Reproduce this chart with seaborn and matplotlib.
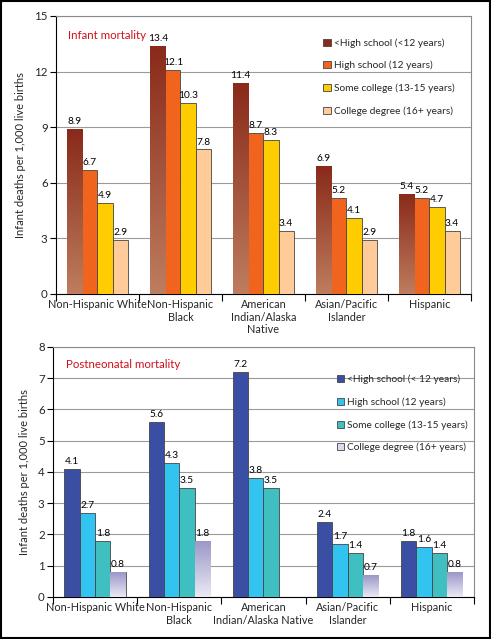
import numpy as np
import pandas as pd
import seaborn as sns
import matplotlib.pyplot as plt
from matplotlib.patches import Patch, Rectangle
from matplotlib.colors import LinearSegmentedColormap

# Data
groups_top = ["Non-Hispanic White", "Non-Hispanic\nBlack", "American\nIndian/Alaska\nNative",
              "Asian/Pacific\nIslander", "Hispanic"]
groups_bot = ["Non-Hispanic White", "Non-Hispanic\nBlack", "American\nIndian/Alaska Native",
              "Asian/Pacific\nIslander", "Hispanic"]
levels = ["<High school (<12 years)", "High school (12 years)",
          "Some college (13-15 years)", "College degree (16+ years)"]
levels_bot = ["<High school (< 12 years)", "High school (12 years)",
              "Some college (13-15 years)", "College degree (16+ years)"]

infant_lt_hs = [8.9, 13.4, 11.4, 6.9, 5.4]
infant_hs = [6.7, 12.1, 8.7, 5.2, 5.2]
infant_some = [4.9, 10.3, 8.3, 4.1, 4.7]
infant_coll = [2.9, 7.8, 3.4, 2.9, 3.4]

post_lt_hs = [4.1, 5.6, 7.2, 2.4, 1.8]
post_hs = [2.7, 4.3, 3.8, 1.7, 1.6]
post_some = [1.8, 3.5, 3.5, 1.4, 1.4]
post_coll = [0.8, 1.8, np.nan, 0.7, 0.8]

top_colors = ["#a0452c", "#f0641e", "#ffcc00", "#ffcc99"]
bot_colors = ["#3a4fa3", "#33c3f0", "#3fbfbf", "#c8c6e2"]

sns.set_theme(style="white")
plt.rcParams['font.family'] = ['Lato', 'DejaVu Sans']


def long_df(groups, lv, series):
    rows = []
    for lvl, vals in zip(lv, series):
        for g, v in zip(groups, vals):
            rows.append({"group": g, "level": lvl, "value": v})
    return pd.DataFrame(rows)


def gradient_fill(ax, container, c_top, c_bot):
    cmap = LinearSegmentedColormap.from_list("g", [c_bot, c_top])
    grad = np.linspace(0, 1, 100).reshape(-1, 1)
    for p in container.patches:
        h = p.get_height()
        if np.isnan(h) or h == 0:
            continue
        x0, y0 = p.get_x(), p.get_y()
        im = ax.imshow(grad, cmap=cmap, origin="lower", aspect="auto",
                       extent=[x0, x0 + p.get_width(), y0, y0 + h], zorder=p.get_zorder())
        im.set_clip_path(p)
        p.set_facecolor("none")


def draw(ax, groups, lv, series, colors, ymax, ystep, title, leg_anchor, grad, leg_colors):
    df = long_df(groups, lv, series)
    sns.barplot(data=df, x="group", y="value", hue="level", palette=colors,
                width=0.73, saturation=1, edgecolor="#444444", linewidth=0.6,
                legend=False, ax=ax, zorder=3)
    for cont in ax.containers:
        labels = ["" if np.isnan(v) else f"{v:.1f}" for v in cont.datavalues]
        ax.bar_label(cont, labels=labels, padding=2, fontsize=7.3, color="black")
    idx, c_top, c_bot = grad
    gradient_fill(ax, ax.containers[idx], c_top, c_bot)

    ax.set_xlim(-0.5, 4.5)
    ax.set_ylim(0, ymax)
    ax.set_yticks(np.arange(0, ymax + 0.01, ystep))
    ax.set_xticks(np.arange(-0.5, 5, 1))
    ax.set_xticklabels([])
    ax.set_xticks(np.arange(5), minor=True)
    ax.set_xticklabels(groups, minor=True, fontsize=7.8, linespacing=1.15)
    ax.tick_params(axis="x", which="major", direction="out", length=5, width=0.8,
                   color="black", bottom=True)
    ax.tick_params(axis="x", which="minor", length=0, pad=4)
    ax.tick_params(axis="y", direction="out", length=4, width=0.8, color="black",
                   left=True, labelsize=8.3, pad=2)
    ax.yaxis.grid(True, color="#9a9a9a", linewidth=0.8)
    ax.set_axisbelow(True)
    for s in ["top", "right"]:
        ax.spines[s].set_color("#8a8a8a")
        ax.spines[s].set_linewidth(0.8)
    for s in ["left", "bottom"]:
        ax.spines[s].set_color("black")
        ax.spines[s].set_linewidth(0.8)
    ax.set_xlabel("")
    ax.set_ylabel("Infant deaths per 1,000 live births", fontsize=8, labelpad=6)
    ax.text(0.03, 0.95, title, transform=ax.transAxes, color="#d0101a",
            fontsize=8.3, va="top", ha="left")
    handles = [Patch(facecolor=c, edgecolor="#444444", linewidth=0.6) for c in leg_colors]
    ax.legend(handles, lv, loc="upper left", bbox_to_anchor=leg_anchor, frameon=False,
              fontsize=7.3, handlelength=0.7, handleheight=0.7, handletextpad=0.3,
              labelspacing=1.3, borderaxespad=0)


fig = plt.figure(figsize=(4.91, 6.39), dpi=100)
ax1 = fig.add_axes([0.114, 0.540, 0.845, 0.435])
ax2 = fig.add_axes([0.108, 0.066, 0.857, 0.391])

draw(ax1, groups_top, levels, [infant_lt_hs, infant_hs, infant_some, infant_coll],
     top_colors, 15, 3, "Infant mortality", (0.635, 0.935),
     (0, "#8a2a1a", "#bd7d5e"), ["#8a2a1a", "#f0641e", "#ffcc00", "#ffcc99"])
draw(ax2, groups_bot, levels_bot, [post_lt_hs, post_hs, post_some, post_coll],
     bot_colors, 8, 1, "Postneonatal mortality", (0.665, 0.905),
     (3, "#9a97c9", "#ebe9f4"), ["#3a4fa3", "#33c3f0", "#3fbfbf", "#dcdaee"])

fig.patches.append(Rectangle((0.002, 0.002), 0.996, 0.996, transform=fig.transFigure,
                             fill=False, edgecolor="black", linewidth=1.5))

fig.savefig("out.png", dpi=100)
